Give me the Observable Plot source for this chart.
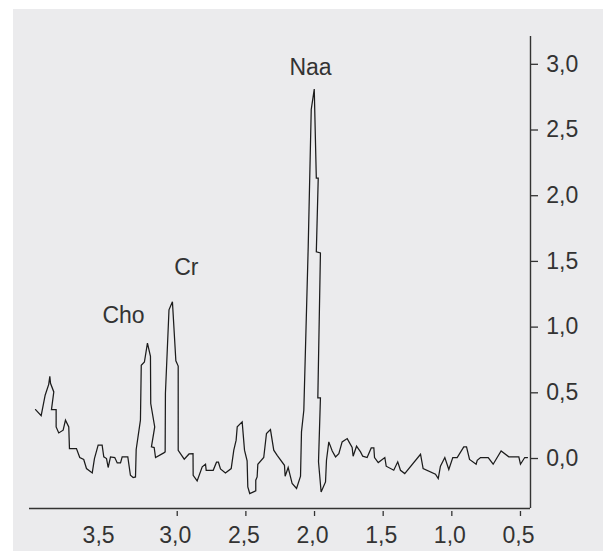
<!DOCTYPE html>
<html>
<head>
<meta charset="utf-8">
<script src="https://cdn.jsdelivr.net/npm/d3@7"></script>
<script src="https://cdn.jsdelivr.net/npm/@observablehq/plot@0.6"></script>
<style>
  html, body { margin: 0; padding: 0; background: #ffffff; width: 603px; height: 551px; overflow: hidden; }
  #bg { position: absolute; left: 13px; top: 9px; width: 590px; height: 542px; background: #ebebed; }
  #chart { position: absolute; left: 0; top: 0; }
</style>
</head>
<body>
<div id="bg"></div>
<div id="chart"></div>
<script>
// chemical shift (ppm) and signal intensity
const ppm = [4.032,3.991,3.962,3.936,3.928,3.923,3.899,3.916,3.882,3.882,3.863,3.831,3.814,3.790,3.785,3.734,3.710,3.681,3.661,3.619,
  3.603,3.576,3.547,3.535,3.515,3.503,3.486,3.455,3.437,3.413,3.401,3.360,3.341,3.321,3.304,3.299,3.268,3.262,3.239,3.217,
  3.195,3.193,3.164,3.188,3.168,3.158,3.098,3.088,3.086,3.060,3.035,3.010,2.993,2.993,2.949,2.914,2.885,2.884,2.855,2.818,
  2.794,2.789,2.738,2.714,2.700,2.685,2.649,2.607,2.588,2.571,2.563,2.527,2.510,2.491,2.486,2.472,2.428,2.428,2.418,2.413,
  2.370,2.350,2.321,2.297,2.272,2.219,2.214,2.192,2.163,2.131,2.102,2.095,2.078,2.046,2.024,2.002,1.987,1.973,1.987,1.957,
  1.976,1.957,1.971,1.952,1.920,1.913,1.896,1.871,1.847,1.823,1.799,1.762,1.726,1.719,1.694,1.665,1.649,1.617,1.587,1.568,
  1.563,1.536,1.488,1.478,1.423,1.394,1.374,1.343,1.228,1.209,1.119,1.099,1.083,1.051,1.022,0.993,0.961,0.913,0.893,0.871,
  0.823,0.815,0.791,0.735,0.699,0.641,0.585,0.512,0.500,0.469,0.449];
const intensity = [0.365,0.319,0.474,0.557,0.618,0.565,0.499,0.365,0.365,0.233,0.187,0.208,0.284,0.233,0.068,0.068,0.000,-0.015,-0.084,-0.117,
  -0.008,0.094,0.094,0.005,-0.008,-0.076,0.005,0.000,-0.041,-0.041,0.005,0.005,-0.135,-0.152,-0.148,0.061,0.284,0.702,0.727,0.871,
  0.770,0.411,0.233,0.081,0.076,0.000,0.035,0.043,0.489,1.124,1.186,0.736,0.696,0.054,-0.013,0.027,0.030,-0.135,-0.178,-0.071,
  -0.051,-0.097,-0.097,-0.036,-0.036,-0.087,-0.117,-0.084,0.056,0.132,0.233,0.271,0.056,-0.026,-0.224,-0.274,-0.254,-0.173,-0.148,-0.051,
  0.000,0.183,0.213,0.056,0.017,-0.059,-0.142,-0.076,-0.198,-0.236,-0.142,0.195,0.360,1.605,2.649,2.804,2.127,2.127,1.565,1.557,
  0.453,0.453,-0.033,-0.262,-0.186,-0.021,0.119,0.050,0.005,0.030,0.119,0.144,0.076,0.010,0.086,0.043,0.010,0.000,0.073,0.073,
  0.000,-0.038,0.000,-0.066,-0.097,-0.033,-0.097,-0.122,0.025,-0.084,-0.127,-0.160,-0.066,0.000,-0.091,0.000,0.000,0.081,0.081,-0.015,
  -0.051,-0.021,0.000,0.000,-0.051,0.050,0.005,0.005,-0.051,0.000,0.000];

// peak annotations
const peakNames = ["Cho", "Cr", "Naa"];
const peakPpm = [3.391, 2.934, 2.0295];
const peakLabelY = [1.082, 1.446, 2.970];

// axis ticks
const xTickValues = [3.0, 2.5, 2.0, 1.5, 1.0, 0.5];
const xLabelValues = [3.0, 2.5, 2.0, 1.5, 1.0, 0.5];
const xExtraLabel = [3.5];
const yTickValues = [0, 0.5, 1.0, 1.5, 2.0, 2.5, 3.0];

const spectrum = ppm.map((p, i) => ({ppm: p, v: intensity[i]}));
const peaks = peakNames.map((n, i) => ({name: n, ppm: peakPpm[i], y: peakLabelY[i]}));
const fmt = d => d.toFixed(1).replace(".", ",");
const ink = "#333333";
const xDomain = [4.076, 0.427];
const yDomain = [-0.388, 3.204];

const chart = Plot.plot({
  width: 603,
  height: 551,
  marginLeft: 29,
  marginRight: 73,
  marginTop: 36,
  marginBottom: 43,
  x: {domain: xDomain, label: null},
  y: {domain: yDomain, label: null},
  style: {background: "transparent", fontFamily: "'Liberation Sans', Arial, Helvetica, sans-serif", fontSize: "23px", color: ink},
  marks: [
    Plot.ruleY([yDomain[0]], {stroke: ink, strokeWidth: 1.4}),
    Plot.ruleX([xDomain[1]], {stroke: ink, strokeWidth: 1.4}),
    Plot.axisX({ticks: xTickValues, tickSize: 5, dy: 3, tickFormat: () => "", label: null, stroke: ink, strokeWidth: 1.3}),
    Plot.axisX({ticks: xLabelValues, tickSize: 0, tickPadding: 18.5, dx: -2, tickFormat: fmt, label: null, fill: ink, fontSize: 23}),
    Plot.axisX({ticks: xExtraLabel, tickSize: 0, tickPadding: 18.5, dx: -10, tickFormat: fmt, label: null, fill: ink, fontSize: 23}),
    Plot.axisY({anchor: "right", ticks: yTickValues, tickSize: 7, tickPadding: 8.7, dy: 1, tickFormat: fmt, label: null, stroke: ink, strokeWidth: 1.3, fill: ink, fontSize: 23}),
    Plot.line(spectrum, {x: "ppm", y: "v", stroke: "#1c1c1c", strokeWidth: 1.25, strokeLinejoin: "miter", strokeMiterlimit: 4}),
    Plot.text(peaks, {x: "ppm", y: "y", text: "name", fill: ink, fontSize: 23, textAnchor: "middle", lineAnchor: "middle"})
  ]
});
document.getElementById("chart").appendChild(chart);
</script>
</body>
</html>
